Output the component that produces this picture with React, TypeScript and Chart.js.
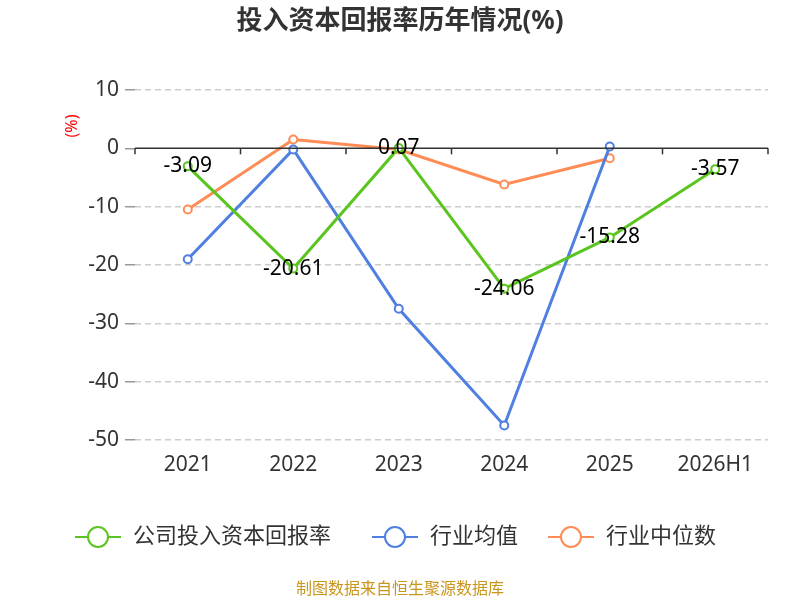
import React, { useEffect, useRef } from "react";
import { Chart, registerables } from "chart.js";
Chart.register(...registerables);

const categories = ["2021", "2022", "2023", "2024", "2025", "2026H1"];
const companyValues = [-3.09, -20.61, 0.07, -24.06, -15.28, -3.57];
const industryMean = [-19, -0.2, -27.5, -47.5, 0.3, null];
const industryMedian = [-10.5, 1.5, -0.2, -6.2, -1.7, null];
const yTicks = [10, 0, -10, -20, -30, -40, -50];

const GREEN = "#5bc51f";
const BLUE = "#4f7fe0";
const ORANGE = "#ff8c55";
const FONT = "'Noto Sans', 'Noto Sans CJK SC', sans-serif";

const decor = {
  id: "decor",
  afterDatasetsDraw(chart: any) {
    const { ctx, chartArea, scales } = chart;
    const y0 = scales.y.getPixelForValue(0);
    ctx.save();
    ctx.strokeStyle = "#333";
    ctx.lineWidth = 1.5;
    ctx.beginPath();
    ctx.moveTo(chartArea.left, y0);
    ctx.lineTo(chartArea.right, y0);
    ctx.stroke();
    const n = categories.length;
    const w = (chartArea.right - chartArea.left) / n;
    for (let i = 0; i <= n; i++) {
      const x = chartArea.left + w * i;
      ctx.beginPath();
      ctx.moveTo(x, y0);
      ctx.lineTo(x, y0 + 6);
      ctx.stroke();
    }
    ctx.fillStyle = "#000";
    ctx.font = `21px ${FONT}`;
    ctx.textAlign = "center";
    ctx.textBaseline = "middle";
    const meta = chart.getDatasetMeta(0);
    meta.data.forEach((p: any, i: number) => {
      ctx.fillText(companyValues[i].toFixed(2), p.x, p.y);
    });
    ctx.restore();
  },
  afterDraw(chart: any) {
    const { ctx } = chart;
    ctx.save();
    ctx.textBaseline = "middle";
    ctx.textAlign = "center";
    ctx.fillStyle = "#333";
    ctx.font = `bold 26px ${FONT}`;
    ctx.fillText("投入资本回报率历年情况(%)", 400, 22);
    ctx.fillStyle = "#c8961e";
    ctx.font = `16px ${FONT}`;
    ctx.fillText("制图数据来自恒生聚源数据库", 400, 589);
    ctx.save();
    ctx.translate(72, 126);
    ctx.rotate(-Math.PI / 2);
    ctx.fillStyle = "red";
    ctx.font = `16px ${FONT}`;
    ctx.fillText("(%)", 0, 0);
    ctx.restore();
    const items = [
      { x: 75, c: GREEN, t: "公司投入资本回报率" },
      { x: 372, c: BLUE, t: "行业均值" },
      { x: 548, c: ORANGE, t: "行业中位数" },
    ];
    const ly = 537;
    items.forEach((it) => {
      ctx.strokeStyle = it.c;
      ctx.lineWidth = 2;
      ctx.beginPath();
      ctx.moveTo(it.x, ly);
      ctx.lineTo(it.x + 46, ly);
      ctx.stroke();
      ctx.beginPath();
      ctx.arc(it.x + 23, ly, 10, 0, Math.PI * 2);
      ctx.fillStyle = "#fff";
      ctx.fill();
      ctx.stroke();
      ctx.fillStyle = "#333";
      ctx.font = `22px ${FONT}`;
      ctx.textAlign = "left";
      ctx.fillText(it.t, it.x + 58, ly);
    });
    ctx.restore();
  },
};

export default function App() {
  const ref = useRef<HTMLCanvasElement>(null);
  useEffect(() => {
    document.body.style.margin = "0";
    const mk = (label: string, data: any[], c: string) => ({
      label,
      data,
      borderColor: c,
      backgroundColor: "#fff",
      pointBackgroundColor: "#fff",
      pointBorderColor: c,
      pointRadius: 4,
      pointBorderWidth: 2,
      borderWidth: 3,
      tension: 0,
    });
    const chart = new Chart(ref.current!, {
      type: "line",
      data: {
        labels: categories,
        datasets: [
          mk("公司投入资本回报率", companyValues, GREEN),
          mk("行业均值", industryMean, BLUE),
          mk("行业中位数", industryMedian, ORANGE),
        ],
      },
      options: {
        animation: false,
        responsive: false,
        layout: { padding: { left: 65, right: 32, top: 90, bottom: 110 } },
        plugins: { legend: { display: false }, title: { display: false }, tooltip: { enabled: false } },
        scales: {
          x: {
            offset: true,
            grid: { display: false, drawTicks: false },
            border: { display: false },
            ticks: { color: "#333", font: { size: 21, family: FONT }, padding: 12 },
            afterFit: (s: any) => { s.height = 50; },
          },
          y: {
            min: -50,
            max: 10,
            afterBuildTicks: (s: any) => { s.ticks = yTicks.map((v) => ({ value: v })); },
            grid: {
              color: (c: any) => (c.tick && c.tick.value === 0 ? "rgba(0,0,0,0)" : "#ccc"),
              lineWidth: 1.5,
              tickColor: "#999",
              tickLength: 10,
              drawTicks: true,
            },
            border: { display: false, dash: [6, 4] },
            ticks: { color: "#333", font: { size: 21, family: FONT }, padding: 6 },
            afterFit: (s: any) => { s.width = 70; },
          },
        },
      } as any,
      plugins: [decor],
    });
    return () => chart.destroy();
  }, []);
  return <canvas ref={ref} width={800} height={600} style={{ display: "block" }} />;
}
